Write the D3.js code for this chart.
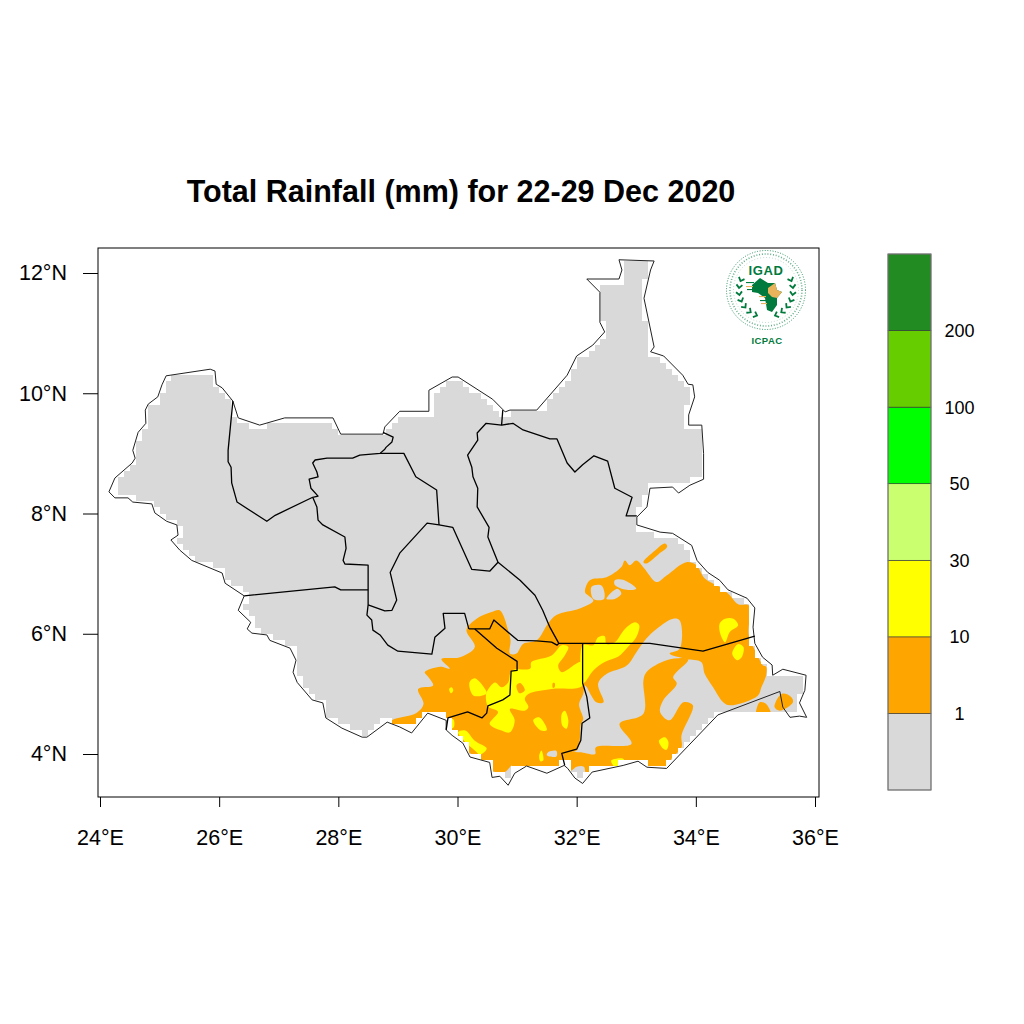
<!DOCTYPE html>
<html><head><meta charset="utf-8">
<script src="https://cdn.jsdelivr.net/npm/d3@7"></script>
<style>html,body{margin:0;background:#fff}svg{display:block}text{font-family:"Liberation Sans",Arial,sans-serif}</style>
</head><body><svg id="c" width="1024" height="1024"></svg>
<script>
// ---------- DATA (lon, lat in degrees) ----------
const titleText = "Total Rainfall (mm) for 22-29 Dec 2020";
const lonTicks = [24,26,28,30,32,34,36];
const latTicks = [4,6,8,10,12];
const legendColors = ["#D9D9D9","#FFA500","#FFFF00","#CAFF70","#00FF00","#66CD00","#228B22"];
const legendLabels = ["1","10","30","50","100","200"];
const outline = [[24.15,8.36],[24.25,8.59],[24.54,8.84],[24.59,8.92],[24.55,9.05],[24.64,9.35],[24.77,9.50],[24.76,9.72],[24.81,9.82],[24.97,9.94],[25.04,10.14],[25.11,10.29],[25.85,10.40],[25.93,10.37],[25.95,10.15],[26.05,10.09],[26.23,9.87],[26.32,9.59],[26.68,9.47],[27.10,9.59],[27.91,9.59],[28.04,9.32],[28.75,9.32],[28.78,9.44],[29.03,9.70],[29.52,9.70],[29.52,10.05],[29.91,10.27],[30.01,10.27],[30.59,9.90],[30.80,9.69],[30.88,9.72],[31.33,9.72],[31.84,10.30],[32.00,10.62],[32.27,10.80],[32.47,11.02],[32.39,11.18],[32.39,11.68],[32.17,11.90],[32.71,11.90],[32.76,12.05],[32.71,12.22],[33.30,12.20],[33.24,12.05],[33.13,11.58],[33.30,10.77],[33.24,10.69],[33.46,10.62],[33.78,10.30],[33.87,10.15],[33.95,10.14],[33.98,9.94],[33.88,9.64],[33.88,9.47],[34.10,9.47],[34.13,9.00],[34.13,8.57],[33.90,8.47],[33.71,8.34],[33.61,8.44],[33.23,8.42],[33.18,8.11],[33.01,7.94],[33.01,7.81],[33.40,7.69],[33.61,7.67],[33.93,7.47],[34.02,7.22],[34.20,7.02],[34.40,6.89],[34.54,6.73],[34.86,6.59],[34.99,6.43],[34.96,6.11],[34.99,5.84],[35.12,5.61],[35.28,5.48],[35.29,5.31],[35.46,5.41],[35.85,5.31],[35.83,5.06],[35.74,4.85],[35.86,4.61],[35.74,4.63],[35.58,4.61],[35.46,4.78],[35.41,5.04],[34.37,4.65],[33.51,3.76],[33.18,3.78],[33.03,3.88],[32.78,3.81],[32.26,3.70],[32.10,3.51],[31.97,3.60],[31.85,3.76],[31.79,3.81],[31.50,3.68],[31.16,3.80],[30.96,3.68],[30.85,3.48],[30.71,3.63],[30.58,3.61],[30.54,3.86],[30.21,3.95],[30.09,4.18],[29.91,4.31],[29.81,4.40],[29.81,4.56],[29.50,4.68],[29.23,4.35],[29.03,4.45],[28.82,4.53],[28.48,4.28],[28.40,4.28],[28.06,4.43],[27.79,4.60],[27.74,4.85],[27.56,4.90],[27.31,5.19],[27.24,5.36],[27.29,5.56],[27.19,5.76],[26.85,5.89],[26.80,5.98],[26.55,6.01],[26.47,6.08],[26.53,6.19],[26.32,6.39],[26.42,6.63],[26.10,6.84],[26.05,7.01],[25.54,7.22],[25.34,7.39],[25.19,7.56],[25.31,7.64],[25.29,7.81],[25.12,7.87],[24.92,8.01],[24.87,8.16],[24.55,8.19],[24.47,8.26],[24.25,8.26],[24.15,8.36]];
const ilemiMask = [[34.40,4.69],[35.41,5.10],[35.62,4.69]];
const borderA = [[26.23,9.87],[26.15,9.05],[26.15,8.86],[26.20,8.77],[26.21,8.51],[26.30,8.19],[26.80,7.87],[26.94,7.97],[27.57,8.27]];
const borderB = [[28.75,9.35],[28.92,9.27],[28.90,9.19],[28.80,9.10],[28.78,9.07],[28.70,9.00],[28.36,8.97],[28.24,8.92],[27.81,8.92],[27.61,8.89],[27.57,8.84],[27.64,8.69],[27.66,8.61],[27.51,8.57],[27.54,8.42],[27.66,8.29],[27.57,8.27],[27.64,8.11],[27.66,7.89],[27.74,7.81],[28.11,7.61],[28.13,7.42],[28.08,7.22],[28.11,7.16],[28.50,7.14],[28.50,6.73],[28.50,6.48],[28.48,6.31],[28.56,6.23],[28.58,6.06],[28.70,5.98],[28.83,5.81],[29.00,5.71],[29.57,5.66],[29.62,5.94],[29.79,6.09],[29.76,6.34],[30.12,6.34],[30.19,6.08]];
const borderC = [[26.42,6.63],[27.94,6.78],[28.04,6.73],[28.50,6.73]];
const borderD = [[28.50,6.48],[28.78,6.38],[28.90,6.39],[28.98,6.56],[28.87,7.02],[29.03,7.34],[29.49,7.84],[29.69,7.81],[29.92,7.77],[30.24,7.07],[30.54,7.04],[30.68,7.19]];
const borderE = [[28.70,9.00],[29.10,9.00],[29.30,8.61],[29.65,8.39],[29.69,7.81]];
const borderF = [[33.01,7.96],[32.83,7.96],[32.93,8.27],[32.64,8.42],[32.52,8.87],[32.29,8.96],[32.10,8.81],[31.97,8.69],[31.84,8.84],[31.67,9.24],[31.55,9.24],[31.10,9.39],[30.93,9.50],[30.74,9.47],[30.48,9.50],[30.33,9.34],[30.34,9.22],[30.17,8.97],[30.24,8.77],[30.26,8.61],[30.34,8.42],[30.33,8.11],[30.53,7.77],[30.51,7.61],[30.59,7.41],[30.68,7.19],[31.05,6.89],[31.30,6.64],[31.43,6.39],[31.55,6.11],[31.70,5.84]];
const borderF2 = [[30.74,9.47],[30.76,9.72]];
const borderG = [[30.19,6.08],[30.54,6.08],[30.61,6.23],[31.01,5.89],[31.33,5.88],[31.58,5.86],[31.67,5.81],[31.70,5.84],[32.10,5.84],[33.23,5.84],[34.12,5.71],[34.99,5.96]];
const borderH = [[30.29,6.08],[30.66,5.76],[31.00,5.54],[31.00,5.39],[30.90,5.38],[30.88,4.98],[30.76,4.90],[30.51,4.80],[30.49,4.68],[30.41,4.60],[30.17,4.70],[29.84,4.60],[29.81,4.40]];
const borderI = [[32.10,5.84],[32.10,5.18],[32.17,4.95],[32.22,4.60],[32.09,4.51],[32.07,4.23],[32.00,4.08],[31.75,4.01],[31.80,3.81]];
const orangeMain = [[28.90,4.56],[29.31,4.68],[29.43,4.83],[29.34,5.08],[29.59,5.14],[29.51,5.28],[29.45,5.36],[29.71,5.45],[29.87,5.42],[29.73,5.58],[30.04,5.61],[30.29,5.78],[30.15,6.06],[30.32,6.25],[30.57,6.36],[30.71,6.39],[30.85,6.06],[30.89,5.89],[30.88,5.67],[30.99,5.67],[31.10,5.83],[31.33,5.89],[31.52,6.17],[31.66,6.31],[32.05,6.42],[32.28,6.55],[32.19,6.64],[32.14,6.69],[32.22,6.89],[32.50,6.94],[32.75,7.11],[32.81,7.22],[32.89,7.14],[33.00,7.22],[33.14,7.08],[33.20,7.00],[33.34,6.86],[33.51,6.97],[33.84,7.19],[34.01,7.14],[34.15,6.92],[34.40,6.78],[34.57,6.64],[34.71,6.49],[34.89,6.47],[34.89,5.97],[35.02,5.67],[35.13,5.47],[35.18,5.45],[35.18,5.31],[35.10,5.11],[35.04,4.97],[34.57,4.81],[34.46,4.86],[34.29,5.11],[34.15,5.33],[34.09,5.53],[33.84,5.58],[33.56,5.67],[33.73,5.75],[33.73,6.22],[33.62,6.25],[33.34,6.08],[33.17,5.92],[33.00,5.69],[32.84,5.47],[32.50,5.33],[32.36,5.17],[32.45,4.86],[32.33,4.86],[32.14,5.14],[32.11,5.00],[32.04,4.83],[32.11,4.58],[32.07,4.50],[32.05,4.22],[32.00,4.06],[31.77,4.00],[31.80,3.72],[30.94,3.72],[30.91,3.81],[30.81,3.71],[30.60,3.71],[30.38,3.89],[29.76,4.28],[29.26,4.25],[28.81,4.45]];
const orangeSouth = [[31.72,4.00],[32.05,4.03],[32.31,4.00],[32.32,4.11],[32.92,4.17],[32.72,4.50],[33.12,4.67],[33.12,5.22],[33.17,5.36],[33.51,5.56],[33.87,5.57],[33.62,5.28],[33.68,5.17],[33.45,4.89],[33.40,4.70],[33.56,4.56],[33.79,4.86],[33.95,4.81],[33.76,4.31],[33.76,4.11],[33.59,3.92],[33.51,3.67],[32.17,3.67],[32.12,3.79],[32.00,3.79],[31.89,3.72],[31.77,3.84]];
const orangeIlemi = [[35.02,4.60],[35.07,4.86],[35.18,4.83],[35.27,4.60]];
const orangeEast = [[35.32,4.78],[35.44,5.00],[35.60,4.95],[35.63,4.86],[35.41,4.72]];
const orangeStrip = [[33.12,7.19],[33.31,7.38],[33.48,7.50],[33.52,7.45],[33.37,7.32],[33.17,7.17]];
const orangeInYellowA = [[30.99,5.14],[31.05,5.18],[31.13,5.06],[31.04,5.01]];
const orangeInYellowB = [[31.60,5.18],[31.63,5.18],[31.63,5.11],[31.60,5.10]];
const grayHoles = [
 [[32.25,6.78],[32.42,6.80],[32.46,6.58],[32.28,6.58]],
 [[32.64,6.89],[32.78,6.90],[33.00,6.75],[32.84,6.73],[32.64,6.81]],
 [[32.50,6.58],[32.68,6.75],[32.75,6.67],[32.64,6.58]],
 [[31.52,4.03],[31.66,4.05],[31.66,3.96],[31.50,3.98]]
];
const yellowCentre = [[30.49,5.03],[30.63,5.19],[30.74,5.11],[30.85,5.19],[30.91,5.39],[31.22,5.42],[31.24,5.53],[31.58,5.64],[31.75,5.81],[31.86,5.78],[31.80,5.64],[31.69,5.47],[31.75,5.36],[32.08,5.53],[32.10,5.14],[31.58,5.08],[31.19,5.00],[31.13,4.92],[31.19,4.78],[31.13,4.72],[30.88,4.75],[30.96,4.56],[30.88,4.36],[30.74,4.39],[30.54,4.50],[30.68,4.70],[30.52,4.78],[30.48,4.89]];
const yellowPatches = [
 [[30.20,5.19],[30.29,5.26],[30.49,5.03],[30.48,5.00],[30.27,4.97]],
 [[32.10,5.81],[32.28,5.81],[32.36,5.94],[32.47,5.96],[32.50,5.83],[32.64,5.86],[32.81,6.08],[32.98,6.19],[33.05,6.14],[33.00,5.94],[32.86,5.78],[32.70,5.62],[32.47,5.53],[32.28,5.39],[32.12,5.19]],
 [[34.40,6.17],[34.49,6.25],[34.63,6.25],[34.71,6.14],[34.57,6.03],[34.49,5.86],[34.41,6.00]],
 [[34.61,5.67],[34.71,5.83],[34.80,5.78],[34.77,5.61],[34.69,5.56]],
 [[31.75,4.67],[31.80,4.72],[31.86,4.56],[31.83,4.42],[31.76,4.47]],
 [[31.27,4.56],[31.37,4.61],[31.50,4.40],[31.40,4.39]],
 [[31.37,3.97],[31.41,4.06],[31.44,3.89],[31.39,3.88]],
 [[33.38,4.22],[33.48,4.28],[33.54,4.20],[33.51,4.07],[33.45,4.09]],
 [[32.58,3.89],[32.78,3.92],[32.81,3.84],[32.64,3.79]],
 [[30.01,4.36],[30.13,4.39],[30.29,4.22],[30.49,4.09],[30.38,3.99],[30.29,4.06],[30.13,4.20]],
 [[29.86,4.56],[29.93,4.58],[29.94,4.45],[29.87,4.42]],
 [[29.86,5.08],[29.90,5.11],[29.93,5.06],[29.89,5.01]]
];
// ---------- DRAW ----------
const svg = d3.select("#c");
const x = d3.scaleLinear().domain([24,36]).range([100,815]);
const y = d3.scaleLinear().domain([4,12]).range([754,273]);
const line = d3.line().x(d=>x(d[0])).y(d=>y(d[1]));
const smooth = d3.line().x(d=>x(d[0])).y(d=>y(d[1])).curve(d3.curveCatmullRomClosed.alpha(0.5));
const frame = {l:98,r:819,t:248,b:797};

// model grid mask (0.1 degree cells), merged into runs along each latitude row
const step = 0.1, inside = p => d3.polygonContains(outline,p) || d3.polygonContains(ilemiMask,p);
let maskD = "";
d3.range(30,125).forEach(j=>{
  d3.range(230,370).forEach(i=>{
    const a=i/10,b=j/10,c=a+step,e=b+step;
    if([[a,b],[c,b],[a,e],[c,e]].every(inside)){
      const l=Math.round(x(a)),r=Math.round(x(c)),t=Math.round(y(e)),bt=Math.round(y(b));
      maskD += `M${l},${bt}L${r},${bt}L${r},${t}L${l},${t}Z`;
    }
  });
});
svg.append("defs").append("clipPath").attr("id","mask").append("path").attr("d",maskD);
svg.append("path").attr("d",maskD).attr("fill",legendColors[0]).attr("shape-rendering","crispEdges");

const rain = svg.append("g").attr("clip-path","url(#mask)");
const fillPoly=(p,col)=>rain.append("path").attr("d",smooth(p)).attr("fill",col);
[orangeMain,orangeSouth,orangeIlemi,orangeEast,orangeStrip].forEach(p=>fillPoly(p,legendColors[1]));
grayHoles.forEach(p=>fillPoly(p,legendColors[0]));
[yellowCentre,...yellowPatches].forEach(p=>fillPoly(p,legendColors[2]));
[orangeInYellowA,orangeInYellowB].forEach(p=>fillPoly(p,legendColors[1]));

svg.append("path").attr("d",line(outline)).attr("fill","none").attr("stroke","#222").attr("stroke-width",1).attr("stroke-linejoin","round");
[borderA,borderB,borderC,borderD,borderE,borderF,borderF2,borderG,borderH,borderI].forEach(b=>
  svg.append("path").attr("d",line(b)).attr("fill","none").attr("stroke","#000").attr("stroke-width",1.3).attr("stroke-linejoin","round"));

// frame and axes
svg.append("rect").attr("x",frame.l).attr("y",frame.t).attr("width",frame.r-frame.l).attr("height",frame.b-frame.t).attr("fill","none").attr("stroke","#000").attr("stroke-width",1);
const gx = svg.append("g").attr("transform",`translate(0,${frame.b})`).call(d3.axisBottom(x).tickValues(lonTicks).tickFormat(d=>d+"°E").tickSize(10).tickPadding(23));
const gy = svg.append("g").attr("transform",`translate(${frame.l},0)`).call(d3.axisLeft(y).tickValues(latTicks).tickFormat(d=>d+"°N").tickSize(15).tickPadding(16));
[gx,gy].forEach(g=>{g.select(".domain").remove();g.selectAll("text").attr("font-size",21.5).attr("fill","#000").style("font-family",'"Liberation Sans",Arial,sans-serif');g.selectAll("line").attr("stroke","#000");});

svg.append("text").attr("x",461).attr("y",202).attr("text-anchor","middle").attr("font-size",30.5).attr("font-weight","bold").attr("fill","#000").text(titleText);

// legend
const ly = d3.scaleLinear().domain([0,7]).range([790,254]);
legendColors.forEach((c,i)=>svg.append("rect").attr("x",888).attr("width",43).attr("y",ly(i+1)).attr("height",ly(i)-ly(i+1)).attr("fill",c).attr("stroke","#333").attr("stroke-width",0.6));
svg.append("rect").attr("x",888).attr("width",43).attr("y",254).attr("height",536).attr("fill","none").attr("stroke","#808080").attr("stroke-width",1);
legendLabels.forEach((t,i)=>svg.append("text").attr("x",959.5).attr("y",ly(i+1)+6.5).attr("text-anchor","middle").attr("font-size",18).attr("fill","#000").text(t));

// IGAD / ICPAC logo
const green="#007A3D";
const logo = svg.append("g").attr("transform","translate(766,290)");
logo.append("circle").attr("r",39.5).attr("fill","none").attr("stroke",green).attr("stroke-width",0.8).attr("stroke-dasharray","1 1.6");
logo.append("circle").attr("r",36).attr("fill","none").attr("stroke",green).attr("stroke-width",1.6).attr("stroke-dasharray","1 1.8").attr("opacity",0.6);
logo.append("circle").attr("r",32.5).attr("fill","none").attr("stroke",green).attr("stroke-width",0.5).attr("stroke-dasharray","1 2").attr("opacity",0.5);
logo.append("text").attr("y",-15).attr("text-anchor","middle").attr("font-size",13).attr("font-weight","bold").attr("fill",green).style("letter-spacing","0.6px").text("IGAD");
const africa=[[-14,-5],[-6,-12],[2,-7],[9,-7],[11,0],[16,2],[11,8],[11,15],[6,22],[1,20],[-1,8],[-8,3],[-14,2]];
const horn=[[2,-2],[9,-7],[11,0],[16,2],[11,8],[6,7],[2,3]];
logo.append("path").attr("d",d3.line()(africa)+"Z").attr("fill",green);
logo.append("path").attr("d",d3.line()(horn)+"Z").attr("fill","#E8B35A");
[[-20,-8,8,green],[-20,-4,7,"#E8B35A"],[-19,-1,6,green],[-7,6,7,"#E8B35A"],[-6,10,7,green],[-5,13,6,"#E8B35A"]].forEach(s=>
  logo.append("rect").attr("x",s[0]).attr("y",s[1]).attr("width",s[2]).attr("height",1.1).attr("fill",s[3]));
[-1,1].forEach(side=>d3.range(7).forEach(k=>{
  const th=(-22+k*15)*Math.PI/180, r=27;
  const px=side*r*Math.cos(th), py=r*Math.sin(th);
  logo.append("path").attr("d","M-3,-2L0,1.2L3,-2").attr("fill","none").attr("stroke",green).attr("stroke-width",1.8)
    .attr("transform",`translate(${px},${py}) rotate(${side*(-22+k*15)})`);
}));
svg.append("text").attr("x",767).attr("y",344).attr("text-anchor","middle").attr("font-size",9.5).attr("font-weight","bold").attr("fill",green).style("letter-spacing","0.4px").text("ICPAC");
</script></body></html>
